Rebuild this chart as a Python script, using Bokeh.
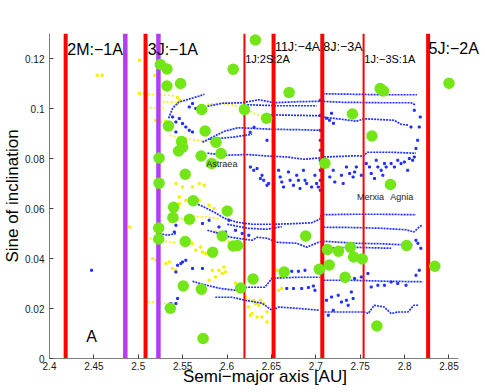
from bokeh.plotting import figure
from bokeh.models import Range1d, FixedTicker, Label
from bokeh.embed import file_html
from bokeh.resources import INLINE

FONT = "Liberation Sans"

# axes
X_MIN, X_MAX = 2.4, 2.861          # extent of the drawn x axis
X_VIEW_MAX = 2.8855                # visible area continues so the 5J label is not cut
Y_MIN, Y_MAX = 0.0, 0.13
x_ticks = [2.4, 2.45, 2.5, 2.55, 2.6, 2.65, 2.7, 2.75, 2.8, 2.85]
x_tick_labels = ["2.4", "2.45", "2.5", "2.55", "2.6", "2.65", "2.7", "2.75", "2.8", "2.85"]
y_ticks = [0, 0.02, 0.04, 0.06, 0.08, 0.1, 0.12]
y_tick_labels = ["0", "0.02", "0.04", "0.06", "0.08", "0.1", "0.12"]
x_label = "Semi\u2212major axis [AU]"
y_label = "Sine of inclination"

# resonances
res_thick_red = [2.4182, 2.5082, 2.6524, 2.7073, 2.8265]
res_thin_red = [2.6196, 2.7538]
res_purple = [2.4854, 2.5227]

big_labels = ["2M:\u22121A", "3J:\u22121A", "5J:\u22122A"]
big_label_x = [2.4201, 2.5107, 2.8270]
big_label_y = [0.1237, 0.1237, 0.1240]
mid_labels = ["11J:\u22124A", "8J:\u22123A"]
mid_label_x = [2.6539, 2.7084]
mid_label_y = [0.1245, 0.1245]
small_labels = ["1J:2S:2A", "1J:\u22123S:1A"]
small_label_x = [2.6204, 2.7546]
small_label_y = [0.1198, 0.1198]
family_labels = ["Astraea", "Merxia", "Agnia"]
family_label_x = [2.5767, 2.7464, 2.7837]
family_label_y = [0.0780, 0.0647, 0.0647]
panel_label = "A"
panel_label_x = 2.4414
panel_label_y = 0.0089

# family members (green)
green_x = [2.5249, 2.5323, 2.5323, 2.5477, 2.6069, 2.6319, 2.6699, 2.7725, 2.7762, 2.8500,
           2.5715, 2.6196, 2.6446, 2.5339, 2.5753, 2.7412, 2.5488, 2.5876, 2.7632, 2.5454,
           2.5499, 2.5708, 2.5932, 2.5827, 2.5234, 2.7102, 2.5529, 2.5234, 2.7840, 2.5619,
           2.5398, 2.5390, 2.5577, 2.6002, 2.5230, 2.5230, 2.5529, 2.5946, 2.6069, 2.6117,
           2.5838, 2.6886, 2.7132, 2.7255, 2.7389, 2.7426, 2.7523, 2.8023, 2.8340, 2.7151,
           2.7039, 2.6643, 2.6293, 2.6153, 2.7330, 2.5507, 2.5711, 2.5361, 2.5730, 2.7688]
green_y = [0.1176, 0.1158, 0.1090, 0.1100, 0.1157, 0.1274, 0.1064, 0.1080, 0.1070, 0.1101,
           0.0996, 0.0996, 0.0961, 0.0930, 0.0910, 0.0978, 0.0868, 0.0865, 0.0890, 0.0830,
           0.0845, 0.0810, 0.0820, 0.0780, 0.0802, 0.0781, 0.0737, 0.0701, 0.0696, 0.0631,
           0.0605, 0.0564, 0.0557, 0.0590, 0.0522, 0.0478, 0.0468, 0.0490, 0.0450, 0.0452,
           0.0425, 0.0490, 0.0436, 0.0429, 0.0445, 0.0406, 0.0398, 0.0452, 0.0369, 0.0374,
           0.0357, 0.0346, 0.0318, 0.0282, 0.0325, 0.0290, 0.0277, 0.0201, 0.0080, 0.0130]

# blue tracks (dotted evolution tracks)
track_t1 = ([2.7076, 2.7400, 2.7736, 2.8139], [0.1059, 0.1057, 0.1055, 0.1055])
track_t2 = ([2.5779, 2.5946, 2.6170, 2.6360, 2.6528, 2.6785, 2.7043, 2.7289, 2.7736, 2.8072, 2.8128],
            [0.1009, 0.1021, 0.1023, 0.1035, 0.1023, 0.1027, 0.1029, 0.1025, 0.1023, 0.1023, 0.1013])
track_t2b = ([2.6226, 2.6562, 2.7009], [0.1015, 0.1011, 0.1011])
track_arc = ([2.5342, 2.5387, 2.5454, 2.5566, 2.5678, 2.5745], [0.0961, 0.1001, 0.1025, 0.1037, 0.1049, 0.1057])
track_c = ([2.6416, 2.6729, 2.7031, 2.7098, 2.7289, 2.7456, 2.7546, 2.7881, 2.7960, 2.8049],
           [0.0975, 0.0973, 0.0971, 0.0965, 0.0957, 0.0949, 0.0959, 0.0953, 0.0937, 0.0933])
track_d = ([2.5723, 2.5834, 2.5969, 2.6125, 2.6259, 2.6506, 2.6841, 2.7031],
           [0.0865, 0.0885, 0.0909, 0.0923, 0.0921, 0.0917, 0.0915, 0.0913])
track_d2 = ([2.5801, 2.6058, 2.6282], [0.0877, 0.0885, 0.0897])
track_e = ([2.5779, 2.6002, 2.6226, 2.6450, 2.6673, 2.6864, 2.7031, 2.7098, 2.7456, 2.7535, 2.7580, 2.7848, 2.8128],
           [0.0821, 0.0813, 0.0816, 0.0810, 0.0806, 0.0797, 0.0802, 0.0806, 0.0811, 0.0809, 0.0825, 0.0825, 0.0821])
track_l1 = ([2.7076, 2.7400, 2.7736, 2.8128], [0.0575, 0.0577, 0.0577, 0.0575])
track_l2a = ([2.5611, 2.5723, 2.5857, 2.5969, 2.6114, 2.6282, 2.6506, 2.6729, 2.6953, 2.7043, 2.7065],
             [0.0625, 0.0609, 0.0585, 0.0561, 0.0545, 0.0537, 0.0537, 0.0539, 0.0543, 0.0557, 0.0577])
track_l2b = ([2.6002, 2.6226, 2.6450, 2.6617], [0.0537, 0.0521, 0.0517, 0.0527])
track_l2c = ([2.7087, 2.7400, 2.7736, 2.8016, 2.8105, 2.8161, 2.8195],
             [0.0525, 0.0524, 0.0521, 0.0515, 0.0506, 0.0525, 0.0533])
track_l3l = ([2.5238, 2.5331, 2.5424], [0.0500, 0.0493, 0.0500])
track_l3 = ([2.5779, 2.5913, 2.6025, 2.6136, 2.6282, 2.6338, 2.6450, 2.6562, 2.6785, 2.6897, 2.7031, 2.7087, 2.7456, 2.7736, 2.8094],
            [0.0513, 0.0500, 0.0486, 0.0480, 0.0473, 0.0485, 0.0481, 0.0465, 0.0461, 0.0445, 0.0465, 0.0469, 0.0461, 0.0459, 0.0453])
track_l3b = ([2.7087, 2.7400, 2.7848], [0.0441, 0.0445, 0.0441])
track_l4 = ([2.5611, 2.5723, 2.5913, 2.6092, 2.6226, 2.6427, 2.6506, 2.6808, 2.7043],
            [0.0309, 0.0297, 0.0281, 0.0273, 0.0285, 0.0285, 0.0321, 0.0325, 0.0325])
track_l4r = ([2.7087, 2.7400, 2.7792, 2.8206], [0.0313, 0.0313, 0.0309, 0.0307])
track_l5 = ([2.5868, 2.6058, 2.6204, 2.6394, 2.6506, 2.6584, 2.6808, 2.7043],
            [0.0245, 0.0245, 0.0233, 0.0221, 0.0193, 0.0206, 0.0200, 0.0193])
track_l5r = ([2.7098, 2.7546, 2.7591, 2.7658, 2.7770, 2.7848, 2.7926, 2.8038, 2.8105, 2.8161],
             [0.0186, 0.0186, 0.0180, 0.0213, 0.0206, 0.0180, 0.0186, 0.0186, 0.0213, 0.0213])

# blue scattered points
blue_dots_x = [2.6263, 2.6301, 2.6338, 2.6394, 2.6375, 2.6413, 2.6450, 2.6469, 2.6581, 2.6598,
               2.6617, 2.6636, 2.6692, 2.6710, 2.6748, 2.6785, 2.6804, 2.6822, 2.6860, 2.6878,
               2.6897, 2.6953, 2.6990, 2.7009, 2.7028, 2.7158, 2.7196, 2.7214, 2.7289, 2.7308,
               2.7345, 2.7381, 2.7420, 2.7456, 2.7437, 2.7512, 2.7568, 2.7605, 2.7624, 2.7661,
               2.7680, 2.7699, 2.7736, 2.7755, 2.7773, 2.7792, 2.7848, 2.7885, 2.7923, 2.7960,
               2.7997, 2.8035, 2.8053, 2.8091, 2.8109, 2.8128, 2.8147, 2.8165, 2.8176, 2.8109,
               2.8072, 2.7177, 2.7121, 2.7154, 2.7199, 2.6450, 2.6304, 2.6260, 2.5387, 2.5424,
               2.5462, 2.5499, 2.5536, 2.5574, 2.5611, 2.5424, 2.5574, 2.5648, 2.5611,
               2.7050, 2.7050, 2.7050, 2.7050, 2.7050, 2.7050, 2.7050, 2.7050, 2.7050,
               2.5723, 2.5798, 2.5909, 2.6021, 2.6095, 2.6170, 2.6245, 2.5983, 2.5536, 2.5424,
               2.5406, 2.5499, 2.5536, 2.5480, 2.5443, 2.5611, 2.5723, 2.5424, 2.5368, 2.5424,
               2.5443, 2.4473, 2.6636, 2.6729, 2.6804, 2.6878, 2.6673, 2.6748, 2.6841, 2.6916,
               2.6972, 2.6990, 2.7177, 2.7252, 2.7289, 2.7345, 2.7364, 2.7121, 2.7196, 2.7140,
               2.7437, 2.7512, 2.7587, 2.7624, 2.7699, 2.7773, 2.7848, 2.7923, 2.8016, 2.8128,
               2.8165, 2.7400, 2.7420, 2.8128, 2.8150, 2.8183]
blue_dots_y = [0.0766, 0.0753, 0.0760, 0.0733, 0.0720, 0.0713, 0.0693, 0.0700, 0.0753, 0.0726,
               0.0706, 0.0686, 0.0746, 0.0713, 0.0693, 0.0733, 0.0713, 0.0680, 0.0753, 0.0713,
               0.0700, 0.0686, 0.0733, 0.0700, 0.0686, 0.0726, 0.0753, 0.0706, 0.0733, 0.0700,
               0.0766, 0.0740, 0.0726, 0.0766, 0.0746, 0.0733, 0.0780, 0.0766, 0.0740, 0.0720,
               0.0793, 0.0766, 0.0753, 0.0733, 0.0780, 0.0766, 0.0780, 0.0766, 0.0793, 0.0780,
               0.0786, 0.0753, 0.0800, 0.0793, 0.0806, 0.0840, 0.0873, 0.0926, 0.0966, 0.0993,
               0.0926, 0.0981, 0.0961, 0.0953, 0.0941, 0.0873, 0.0925, 0.0905, 0.0966, 0.0946,
               0.0960, 0.0940, 0.0926, 0.0913, 0.0906, 0.0906, 0.1006, 0.1000, 0.1020,
               0.1033, 0.0973, 0.0913, 0.0873, 0.0833, 0.0793, 0.0753, 0.0713, 0.0673,
               0.0540, 0.0553, 0.0526, 0.0553, 0.0513, 0.0500, 0.0493, 0.0506, 0.0560, 0.0533,
               0.0506, 0.0386, 0.0393, 0.0380, 0.0373, 0.0360, 0.0360, 0.0346, 0.0220, 0.0220,
               0.0240, 0.0353, 0.0349, 0.0349, 0.0349, 0.0353, 0.0280, 0.0280, 0.0280, 0.0284,
               0.0290, 0.0273, 0.0246, 0.0253, 0.0226, 0.0233, 0.0213, 0.0233, 0.0193, 0.0173,
               0.0320, 0.0326, 0.0340, 0.0286, 0.0293, 0.0293, 0.0306, 0.0300, 0.0293, 0.0333,
               0.0353, 0.0266, 0.0240, 0.0473, 0.0461, 0.0441]

# yellow tracks and points
ytrack_1 = ([2.5107, 2.5186, 2.5275, 2.5353, 2.5421], [0.1057, 0.1055, 0.1053, 0.1053, 0.1049])
ytrack_2 = ([2.5085, 2.5163, 2.5242, 2.5309], [0.1005, 0.1003, 0.1001, 0.1001])
ytrack_3 = ([2.5275, 2.5353, 2.5421], [0.1026, 0.1026, 0.1025])
ytrack_4 = ([2.5353, 2.5465, 2.5577, 2.5689, 2.5801, 2.5913], [0.0893, 0.0885, 0.0877, 0.0871, 0.0866, 0.0857])
ytrack_5 = ([2.5779, 2.5913, 2.6036, 2.6170, 2.6282, 2.6416], [0.1017, 0.1020, 0.1017, 0.1006, 0.0985, 0.0961])
ytrack_6 = ([2.5350, 2.5454, 2.5574, 2.5667, 2.5760, 2.5909], [0.0546, 0.0557, 0.0566, 0.0567, 0.0566, 0.0560])
ytrack_7 = ([2.5126, 2.5238, 2.5350, 2.5424], [0.0480, 0.0473, 0.0466, 0.0462])
ytrack_8 = ([2.5107, 2.5163, 2.5275, 2.5387], [0.0226, 0.0226, 0.0220, 0.0220])

yellow_dots_x = [2.4537, 2.4593, 2.5015, 2.5015, 2.5071, 2.5186, 2.5230, 2.5443, 2.5465, 2.5443,
                 2.5197, 2.5253, 2.5309, 2.5387, 2.5424, 2.5499, 2.5611, 2.5686, 2.5742, 2.5462,
                 2.5536, 2.5611, 2.5686, 2.5462, 2.5798, 2.5854, 2.5163, 2.5200, 2.5312, 2.5350,
                 2.5387, 2.5424, 2.5611, 2.5648, 2.5723, 2.5760, 2.5704, 2.5834, 2.5909, 2.5965,
                 2.5946, 2.5871, 2.5798, 2.5983, 2.5871, 2.5965, 2.6021, 2.6207, 2.6245, 2.6245,
                 2.6263, 2.6301, 2.6375, 2.6413, 2.6338, 2.6282, 2.6450, 2.6450, 2.6581, 2.6598,
                 2.6095, 2.6133, 2.6319, 2.6357, 2.6394, 2.6562, 2.6617, 2.4903]
yellow_dots_y = [0.1133, 0.1133, 0.1193, 0.1060, 0.1060, 0.1133, 0.1125, 0.1045, 0.1033, 0.1021,
                 0.0953, 0.0945, 0.0949, 0.0937, 0.0700, 0.0686, 0.0686, 0.0700, 0.0693, 0.0646,
                 0.0633, 0.0620, 0.0633, 0.0620, 0.0613, 0.0600, 0.0400, 0.0393, 0.0380, 0.0386,
                 0.0360, 0.0353, 0.0460, 0.0433, 0.0426, 0.0420, 0.0446, 0.0353, 0.0353, 0.0366,
                 0.0340, 0.0326, 0.0313, 0.0346, 0.0506, 0.0486, 0.0466, 0.0246, 0.0233, 0.0206,
                 0.0173, 0.0233, 0.0233, 0.0220, 0.0166, 0.0180, 0.0186, 0.0146, 0.0273, 0.0326,
                 0.0302, 0.0286, 0.0220, 0.0213, 0.0166, 0.0353, 0.0280, 0.0526]

blue_tracks = [track_t1, track_t2, track_t2b, track_arc, track_c, track_d, track_d2, track_e,
               track_l1, track_l2a, track_l2b, track_l2c, track_l3l, track_l3, track_l3b,
               track_l4, track_l4r, track_l5, track_l5r]
yellow_tracks = [ytrack_1, ytrack_2, ytrack_3, ytrack_4, ytrack_5, ytrack_6, ytrack_7, ytrack_8]

BLUE = "#1f2fff"
YELLOW = "#f4f000"
GREEN = "#72e616"
RED = "#ff0000"
PURPLE = "#b43cf5"

p = figure(width=485, height=392, output_backend="svg", toolbar_location=None,
           x_range=Range1d(X_MIN, X_VIEW_MAX), y_range=Range1d(Y_MIN, Y_MAX),
           min_border_left=46, min_border_right=5, min_border_top=33, min_border_bottom=34)
p.outline_line_color = None
p.grid.grid_line_color = None
p.background_fill_color = "white"
p.border_fill_color = "white"

for ax in (p.xaxis[0], p.yaxis[0]):
    ax.axis_line_color = "#808080"
    ax.major_tick_line_color = "#404040"
    ax.major_tick_in = 4
    ax.major_tick_out = 0
    ax.minor_tick_line_color = None
    ax.major_label_text_font = FONT
    ax.major_label_text_font_size = "10px"
    ax.major_label_text_color = "#1a1a1a"
    ax.axis_label_text_font = FONT
    ax.axis_label_text_font_size = "17px"
    ax.axis_label_text_font_style = "normal"
    ax.axis_label_text_color = "black"
    ax.axis_label_standoff = 0
p.xaxis.axis_label_standoff = -6
p.xaxis.bounds = (X_MIN, X_MAX)
p.xaxis.ticker = FixedTicker(ticks=x_ticks)
p.yaxis.ticker = FixedTicker(ticks=y_ticks)
p.xaxis.major_label_overrides = dict(zip(x_ticks, x_tick_labels))
p.yaxis.major_label_overrides = dict(zip(y_ticks, y_tick_labels))
p.xaxis.major_label_standoff = 3
p.yaxis.major_label_standoff = 5
p.xaxis.axis_label = x_label
p.yaxis.axis_label = y_label

# yellow
p.multi_line(xs=[t[0] for t in yellow_tracks], ys=[t[1] for t in yellow_tracks],
             line_color=YELLOW, line_width=1.6, line_dash="2 2")
p.scatter(yellow_dots_x, yellow_dots_y, marker="square", size=2.2, color=YELLOW)
# blue
p.multi_line(xs=[t[0] for t in blue_tracks], ys=[t[1] for t in blue_tracks],
             line_color=BLUE, line_width=1.7, line_dash="2 1")
p.scatter(blue_dots_x, blue_dots_y, marker="square", size=2.0, color=BLUE)

# resonance lines
p.segment(x0=res_thick_red, x1=res_thick_red, y0=[Y_MIN] * len(res_thick_red),
          y1=[Y_MAX] * len(res_thick_red), line_color=RED, line_width=4)
p.segment(x0=res_thin_red, x1=res_thin_red, y0=[Y_MIN] * len(res_thin_red),
          y1=[Y_MAX] * len(res_thin_red), line_color=RED, line_width=2)
p.segment(x0=res_purple, x1=res_purple, y0=[Y_MIN] * len(res_purple),
          y1=[Y_MAX] * len(res_purple), line_color=PURPLE, line_width=4.5)

# family members
p.scatter(green_x, green_y, marker="circle", size=11.5, fill_color=GREEN, line_color=None)

# texts
def add_labels(texts, xs, ys, size, color="black"):
    for t, x, y in zip(texts, xs, ys):
        p.add_layout(Label(x=x, y=y, text=t, text_font=FONT, text_font_size=size,
                           text_color=color, text_baseline="alphabetic"))

add_labels(big_labels, big_label_x, big_label_y, "16px")
add_labels(mid_labels, mid_label_x, mid_label_y, "12.5px")
add_labels(small_labels, small_label_x, small_label_y, "11px")
add_labels(family_labels, family_label_x, family_label_y, "9px", "#222222")
add_labels([panel_label], [panel_label_x], [panel_label_y], "16px")

open("out.html", "w").write(file_html(p, INLINE))
